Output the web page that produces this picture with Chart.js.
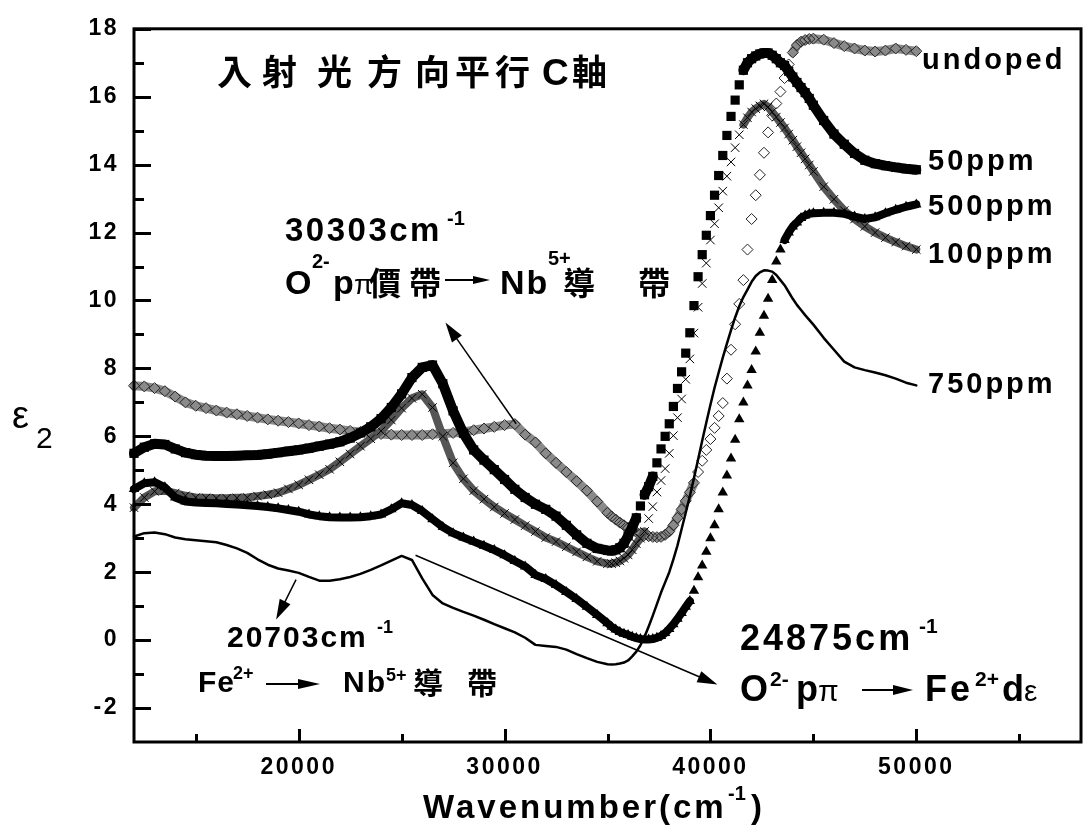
<!DOCTYPE html>
<html>
<head>
<meta charset="utf-8">
<script src="https://cdn.jsdelivr.net/npm/chart.js@4/dist/chart.umd.min.js"></script>
<style>
  html, body { margin: 0; padding: 0; background: #fff; }
  canvas { display: block; }
</style>
</head>
<body>
<canvas id="chart" width="1088" height="828"></canvas>
<script>
// x grid (cm-1): coarse on the flat part, finer on the steep band edge
const wavenumber = [
  12000, 12500, 13000, 13500, 14000, 14500, 15000, 15500, 16000, 16500,
  17000, 17500, 18000, 18500, 19000, 19500, 20000, 20500, 21000, 21500,
  22000, 22500, 23000, 23500, 24000, 24500, 25000, 25500, 26000, 26500,
  27000, 27500, 28000, 28500, 29000, 29500, 30000, 30500, 31000, 31500,
  32000, 32500, 33000, 33500, 34000, 34500, 35000,
  35200, 35400, 35600, 35800, 36000, 36200, 36400, 36600, 36800, 37000,
  37200, 37400, 37600, 37800, 38000, 38200, 38400, 38600, 38800, 39000,
  39200, 39400, 39600, 39800, 40000, 40200, 40400, 40600, 40800, 41000,
  41200, 41400, 41600, 41800, 42000, 42200, 42400, 42600, 42800, 43000,
  43200, 43400, 43600, 43800, 44000, 44200, 44400, 44600, 44800, 45000,
  45500, 46000, 46500, 47000, 47500, 48000, 48500, 49000, 49500, 50000
];

const undoped = [
  7.49, 7.47, 7.42, 7.33, 7.17, 7.0, 6.9, 6.83, 6.76, 6.7,
  6.65, 6.6, 6.55, 6.5, 6.46, 6.42, 6.38, 6.33, 6.29, 6.24,
  6.2, 6.16, 6.13, 6.1, 6.07, 6.05, 6.04, 6.04, 6.04, 6.06,
  6.08, 6.1, 6.13, 6.18, 6.23, 6.28, 6.33, 6.36, 6.05, 5.82,
  5.5, 5.22, 4.95, 4.68, 4.4, 4.08, 3.75,
  3.64, 3.55, 3.46, 3.38, 3.3, 3.24, 3.18, 3.13, 3.09, 3.06,
  3.04, 3.03, 3.04, 3.1, 3.2, 3.38, 3.6, 3.85, 4.1, 4.35,
  4.63, 4.95, 5.28, 5.6, 5.92, 6.25, 6.6, 6.98, 7.7, 8.55,
  9.3, 9.9, 10.6, 11.5, 12.4, 13.1, 13.7, 14.35, 14.95, 15.45,
  15.8, 16.15, 16.55, 16.95, 17.3, 17.52, 17.62, 17.67, 17.7, 17.71,
  17.68, 17.58, 17.49, 17.42, 17.36, 17.33, 17.36, 17.42, 17.38, 17.34
];

const ppm50 = [
  5.5, 5.68, 5.78, 5.76, 5.63, 5.52, 5.46, 5.43, 5.42, 5.42,
  5.43, 5.44, 5.45, 5.48, 5.52, 5.56, 5.6, 5.65, 5.71, 5.77,
  5.84, 5.95, 6.1, 6.28, 6.52, 6.85, 7.25, 7.73, 8.03, 8.1,
  7.55, 6.75, 6.09, 5.6, 5.3, 5.02, 4.73, 4.44, 4.2, 4.0,
  3.85, 3.65, 3.38, 3.1, 2.85, 2.7, 2.64,
  2.63, 2.66, 2.72, 2.85, 3.07, 3.33, 3.6, 3.95, 4.28, 4.52,
  4.82, 5.22, 5.63, 6.0, 6.37, 6.88, 7.41, 7.9, 8.45, 9.05,
  9.85, 10.7, 11.35, 11.92, 12.5, 13.1, 13.68, 14.27, 14.86, 15.42,
  15.9, 16.35, 16.78, 17.0, 17.12, 17.2, 17.26, 17.29, 17.29, 17.22,
  17.12, 17.0, 16.92, 16.75, 16.58, 16.42, 16.27, 16.12, 15.95, 15.75,
  15.3, 14.9, 14.6, 14.33, 14.13, 14.03, 13.97, 13.92, 13.88, 13.85
];

const ppm100 = [
  3.9, 4.2, 4.38, 4.4, 4.33, 4.25, 4.2, 4.19, 4.18, 4.18,
  4.19, 4.2, 4.24, 4.28, 4.34, 4.45, 4.57, 4.72, 4.87, 5.03,
  5.25, 5.48, 5.71, 5.93, 6.16, 6.48, 6.83, 7.12, 7.24, 6.85,
  6.0, 5.22, 4.75, 4.4, 4.15, 3.92, 3.73, 3.55, 3.37, 3.2,
  3.02, 2.9, 2.75, 2.6, 2.45, 2.32, 2.25,
  2.25, 2.28, 2.33, 2.41, 2.51, 2.66, 2.84, 3.0, 3.2, 3.58,
  3.93, 4.36, 4.7, 5.05, 5.5, 6.02, 6.55, 7.1, 7.68, 8.28,
  9.04, 9.8, 10.5, 11.1, 11.78, 12.26, 12.73, 13.22, 13.66, 14.08,
  14.5, 14.88, 15.18, 15.38, 15.55, 15.65, 15.73, 15.79, 15.7, 15.55,
  15.4, 15.24, 15.08, 14.9, 14.72, 14.53, 14.35, 14.17, 13.99, 13.8,
  13.35, 12.98, 12.65, 12.4, 12.18, 12.0, 11.85, 11.72, 11.6, 11.5
];

const ppm500 = [
  4.45, 4.62, 4.65, 4.5, 4.2, 4.08, 4.05, 4.04, 4.03, 4.01,
  3.99, 3.97, 3.95, 3.92, 3.88, 3.83, 3.78, 3.7, 3.65, 3.62,
  3.61, 3.61, 3.62, 3.65, 3.7, 3.85, 4.03, 3.98, 3.8, 3.56,
  3.33, 3.15, 3.02, 2.9, 2.78, 2.65, 2.5, 2.33, 2.17, 1.92,
  1.8, 1.62, 1.42, 1.21, 0.98, 0.74, 0.5,
  0.39, 0.31, 0.24, 0.19, 0.15, 0.1, 0.06, 0.03, 0.02, 0.02,
  0.03, 0.07, 0.12, 0.21, 0.33, 0.47, 0.63, 0.8, 0.98, 1.15,
  1.45, 1.85, 2.2, 2.6, 3.0, 3.38, 3.85, 4.35, 4.85, 5.35,
  5.9, 6.5, 7.0, 7.5, 7.95, 8.5, 9.05, 9.55, 10.05, 10.6,
  11.15, 11.5, 11.78, 12.0, 12.18, 12.3, 12.43, 12.5, 12.55, 12.57,
  12.58, 12.58, 12.55, 12.47, 12.4, 12.45, 12.57, 12.67, 12.76, 12.83
];

const ppm750 = [
  3.05, 3.15, 3.17, 3.12, 3.02, 2.97, 2.94, 2.91, 2.88, 2.8,
  2.7, 2.57, 2.38, 2.22, 2.11, 2.05, 1.98, 1.86, 1.75, 1.75,
  1.79, 1.86, 1.95, 2.07, 2.2, 2.34, 2.48, 2.36, 1.82, 1.33,
  1.08, 0.95, 0.83, 0.72, 0.6, 0.47, 0.35, 0.23, 0.07, -0.14,
  -0.17, -0.2, -0.28, -0.41, -0.53, -0.64, -0.71,
  -0.72, -0.71, -0.69, -0.66, -0.6, -0.48, -0.34, -0.15, 0.1, 0.4,
  0.72, 1.06, 1.4, 1.7, 2.0, 2.38, 2.79, 3.27, 3.75, 4.24,
  4.77, 5.32, 5.87, 6.41, 6.93, 7.43, 7.88, 8.32, 8.73, 9.13,
  9.5, 9.83, 10.1, 10.32, 10.55, 10.72, 10.83, 10.89, 10.88, 10.85,
  10.75, 10.6, 10.45, 10.25, 10.05, 9.87, 9.72, 9.57, 9.43, 9.29,
  8.9, 8.55, 8.2, 8.03, 7.95, 7.88, 7.8, 7.7, 7.58, 7.5
];

// axis ticks
const xTickValues = [15000, 20000, 25000, 30000, 35000, 40000, 45000, 50000, 55000];
const xTickLabels = [20000, 30000, 40000, 50000];
const yTickValues = [-2, -1, 0, 1, 2, 3, 4, 5, 6, 7, 8, 9, 10, 11, 12, 13, 14, 15, 16, 17, 18];
const yTickLabels = [-2, 0, 2, 4, 6, 8, 10, 12, 14, 16, 18];

// annotation arrows in data units: [fromX, fromY, toX, toY]
const noteArrows = [
  [30563, 6.37, 27128, 9.35],
  [25676, 2.5, 40335, -1.31],
  [19871, 1.78, 18904, 0.61]
];

const LAT = '"Liberation Sans", Arial, sans-serif';
const CJK = '"Noto Sans CJK TC", "Noto Sans CJK SC", sans-serif';

const pts = (ys) => wavenumber.map((x, i) => ({ x, y: ys[i] }));

// the measured points crowd together at low wavenumber and on gentle slopes:
// draw a solid band there, and leave bare markers where they spread apart
const band = (color) => ({
  borderColor: ctx => {
    const slope = Math.abs((ctx.p1.y - ctx.p0.y) / (ctx.p1.x - ctx.p0.x));
    const k = ctx.p0.parsed.x / 42000;
    return slope * k * k > 2.0 ? 'rgba(0,0,0,0)' : color;
  }
});

function txt(ctx, s, x, y, font, sp) {
  ctx.font = font;
  ctx.letterSpacing = (sp || 0) + 'px';
  ctx.fillText(s, x, y);
}

function arrow(ctx, x1, y1, x2, y2, head, half, lw) {
  const a = Math.atan2(y2 - y1, x2 - x1);
  const c = Math.cos(a), s = Math.sin(a);
  ctx.lineWidth = lw;
  ctx.beginPath();
  ctx.moveTo(x1, y1);
  ctx.lineTo(x2 - c * head * 0.8, y2 - s * head * 0.8);
  ctx.stroke();
  const bx = x2 - c * head, by = y2 - s * head;
  ctx.beginPath();
  ctx.moveTo(x2, y2);
  ctx.lineTo(bx - s * half, by + c * half);
  ctx.lineTo(bx + s * half, by - c * half);
  ctx.closePath();
  ctx.fill();
}

const decorations = {
  id: 'decorations',
  beforeDraw: (chart) => { chart.ctx.letterSpacing = '2.5px'; },
  afterDraw: (chart) => {
    const { ctx, chartArea: a, scales: { x, y } } = chart;
    ctx.save();
    ctx.strokeStyle = '#000';
    ctx.fillStyle = '#000';
    ctx.letterSpacing = '0px';

    // frame
    ctx.lineWidth = 3;
    ctx.strokeRect(a.left, a.top, a.right - a.left, a.bottom - a.top);

    // inward ticks
    yTickValues.forEach(v => {
      const p = Math.round(y.getPixelForValue(v)) + 0.5;
      ctx.beginPath();
      ctx.moveTo(a.left, p);
      ctx.lineTo(a.left + (v % 2 === 0 ? 17 : 10), p);
      ctx.stroke();
    });
    xTickValues.forEach(v => {
      const p = Math.round(x.getPixelForValue(v)) + 0.5;
      ctx.beginPath();
      ctx.moveTo(p, a.bottom);
      ctx.lineTo(p, a.bottom - (v % 10000 === 0 ? 13 : 8));
      ctx.stroke();
    });

    // annotation arrows
    noteArrows.forEach(([x1, y1, x2, y2]) => {
      arrow(ctx, x.getPixelForValue(x1), y.getPixelForValue(y1),
        x.getPixelForValue(x2), y.getPixelForValue(y2), 20, 6, 1.5);
    });

    ctx.textAlign = 'left';
    ctx.textBaseline = 'alphabetic';

    // axis titles
    txt(ctx, 'ε', 12, 428, '38px ' + LAT, 0);
    txt(ctx, '2', 36, 448, '30px ' + LAT, 0);
    txt(ctx, 'Wavenumber(cm', 423, 818, 'bold 33px ' + LAT, 3);
    txt(ctx, '-1', 728, 800, 'bold 20px ' + LAT, 0);
    txt(ctx, ')', 751, 818, 'bold 33px ' + LAT, 0);

    // heading
    txt(ctx, '入射', 217, 85, 'bold 35px ' + CJK, 10);
    txt(ctx, '光', 317, 85, 'bold 35px ' + CJK, 0);
    txt(ctx, '方', 367, 85, 'bold 35px ' + CJK, 0);
    txt(ctx, '向平行', 415, 85, 'bold 35px ' + CJK, 5);
    txt(ctx, 'C', 542, 85, 'bold 37px ' + LAT, 0);
    txt(ctx, '軸', 572, 85, 'bold 35px ' + CJK, 0);

    // 30303 cm-1 note
    txt(ctx, '30303cm', 285, 241, 'bold 33px ' + LAT, 2.5);
    txt(ctx, '-1', 447, 225, 'bold 20px ' + LAT, 0);
    txt(ctx, 'O', 285, 294, 'bold 34px ' + LAT, 0);
    txt(ctx, '2-', 312, 268, 'bold 20px ' + LAT, 0);
    txt(ctx, 'p', 333, 294, 'bold 34px ' + LAT, 0);
    txt(ctx, 'π', 354, 294, '28px ' + LAT, 0);
    txt(ctx, '價', 369, 295, 'bold 32px ' + CJK, 0);
    txt(ctx, '帶', 409, 295, 'bold 32px ' + CJK, 0);
    arrow(ctx, 445, 280, 490, 280, 17, 4, 2);
    txt(ctx, 'Nb', 500, 294, 'bold 34px ' + LAT, 2);
    txt(ctx, '5+', 548, 265, 'bold 20px ' + LAT, 0);
    txt(ctx, '導', 563, 295, 'bold 32px ' + CJK, 0);
    txt(ctx, '帶', 638, 295, 'bold 32px ' + CJK, 0);

    // 20703 cm-1 note
    txt(ctx, '20703cm', 227, 647, 'bold 30px ' + LAT, 2);
    txt(ctx, '-1', 377, 633, 'bold 18px ' + LAT, 0);
    txt(ctx, 'Fe', 198, 692, 'bold 30px ' + LAT, 1);
    txt(ctx, '2+', 233, 679, 'bold 18px ' + LAT, 0);
    arrow(ctx, 266, 684, 320, 684, 22, 5, 2);
    txt(ctx, 'Nb', 343, 692, 'bold 30px ' + LAT, 2);
    txt(ctx, '5+', 386, 681, 'bold 18px ' + LAT, 0);
    txt(ctx, '導', 413, 694, 'bold 30px ' + CJK, 0);
    txt(ctx, '帶', 467, 694, 'bold 30px ' + CJK, 0);

    // 24875 cm-1 note
    txt(ctx, '24875cm', 740, 650, 'bold 36px ' + LAT, 3);
    txt(ctx, '-1', 919, 633, 'bold 21px ' + LAT, 0);
    txt(ctx, 'O', 740, 701, 'bold 36px ' + LAT, 0);
    txt(ctx, '2-', 770, 686, 'bold 21px ' + LAT, 0);
    txt(ctx, 'p', 796, 701, 'bold 36px ' + LAT, 0);
    txt(ctx, 'π', 818, 701, '30px ' + LAT, 0);
    arrow(ctx, 862, 690, 913, 690, 20, 5, 2);
    txt(ctx, 'Fe', 925, 701, 'bold 36px ' + LAT, 3);
    txt(ctx, '2+', 975, 686, 'bold 21px ' + LAT, 0);
    txt(ctx, 'd', 1002, 701, 'bold 36px ' + LAT, 0);
    txt(ctx, 'ε', 1024, 701, '30px ' + LAT, 0);

    // series labels
    txt(ctx, 'undoped', 922, 69, 'bold 29px ' + LAT, 3);
    txt(ctx, '50ppm', 928, 170, 'bold 29px ' + LAT, 3);
    txt(ctx, '500ppm', 928, 215, 'bold 29px ' + LAT, 3);
    txt(ctx, '100ppm', 928, 263, 'bold 29px ' + LAT, 3);
    txt(ctx, '750ppm', 928, 393, 'bold 29px ' + LAT, 3);

    ctx.restore();
  }
};

Chart.defaults.font.family = LAT;
Chart.defaults.color = '#000';

new Chart(document.getElementById('chart'), {
  type: 'line',
  data: {
    datasets: [
      {
        label: '750ppm', data: pts(ppm750),
        borderColor: '#000', borderWidth: 2.5, pointRadius: 0
      },
      {
        label: '50ppm', data: pts(ppm50),
        borderColor: '#000', borderWidth: 10, segment: band('#000'),
        pointStyle: 'rect', pointRadius: 6.5,
        pointBackgroundColor: '#000', pointBorderColor: '#000', pointBorderWidth: 0
      },
      {
        label: '500ppm', data: pts(ppm500),
        borderColor: '#000', borderWidth: 8, segment: band('#000'),
        pointStyle: 'triangle', pointRadius: 6,
        pointBackgroundColor: '#000', pointBorderColor: '#000', pointBorderWidth: 0
      },
      {
        label: '100ppm', data: pts(ppm100),
        borderColor: '#555', borderWidth: 8, segment: band('#555'),
        pointStyle: 'crossRot', pointRadius: 6,
        pointBorderColor: '#000', pointBorderWidth: 1
      },
      {
        label: 'undoped', data: pts(undoped),
        borderColor: '#8a8a8a', borderWidth: 9, segment: band('#8a8a8a'),
        pointStyle: 'rectRot', pointRadius: 5.5,
        pointBackgroundColor: 'rgba(0,0,0,0)', pointBorderColor: '#222', pointBorderWidth: 1
      }
    ]
  },
  options: {
    responsive: false,
    animation: false,
    devicePixelRatio: 1,
    events: [],
    layout: { padding: { top: 20, right: 2, left: 0, bottom: 0 } },
    elements: { line: { tension: 0, borderJoinStyle: 'round', borderCapStyle: 'round' } },
    datasets: { line: { clip: false } },
    plugins: { legend: { display: false }, tooltip: { enabled: false } },
    scales: {
      x: {
        type: 'linear', min: 12000, max: 58000,
        grid: { display: false, drawTicks: false },
        border: { display: false },
        afterBuildTicks: s => { s.ticks = xTickValues.map(v => ({ value: v })); },
        afterFit: s => { s.height = 86; },
        ticks: {
          autoSkip: false, maxRotation: 0, padding: 12,
          font: { size: 23, weight: 'bold' },
          callback: v => xTickLabels.includes(v) ? String(v) : ''
        }
      },
      y: {
        min: -3, max: 18,
        grid: { display: false, drawTicks: false },
        border: { display: false },
        afterBuildTicks: s => { s.ticks = yTickValues.map(v => ({ value: v })); },
        afterFit: s => { s.width = 134; },
        ticks: {
          autoSkip: false, padding: 15,
          font: { size: 23, weight: 'bold' },
          callback: v => yTickLabels.includes(v) ? String(v) : ''
        }
      }
    }
  },
  plugins: [decorations]
});
</script>
</body>
</html>
